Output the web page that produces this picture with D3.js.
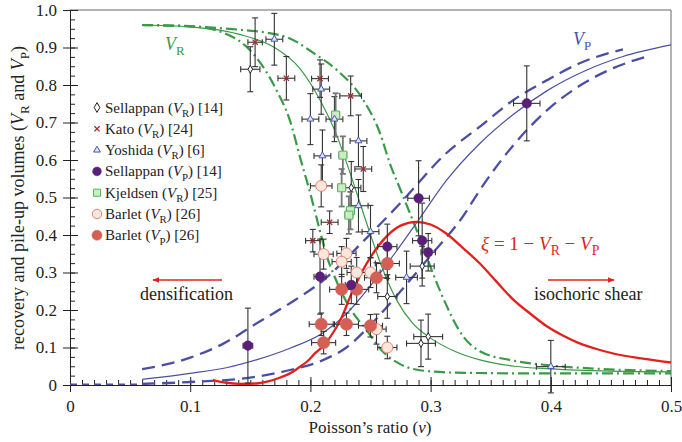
<!DOCTYPE html>
<html><head><meta charset="utf-8">
<script src="https://cdn.jsdelivr.net/npm/d3@7"></script>
<style>body{margin:0;background:#fff}svg{display:block}</style>
</head><body><svg id="c" width="682" height="442"></svg>
<script>
// ---- tick labels ----
const xTicks = [0, 0.1, 0.2, 0.3, 0.4, 0.5];
const xTickLabels = ["0", "0.1", "0.2", "0.3", "0.4", "0.5"];
const yTicks = [0, 0.1, 0.2, 0.3, 0.4, 0.5, 0.6, 0.7, 0.8, 0.9, 1.0];
const yTickLabels = ["0", "0.1", "0.2", "0.3", "0.4", "0.5", "0.6", "0.7", "0.8", "0.9", "1.0"];

// ---- model curves [nu, value] ----
const vrCentre = [[0.06,0.96],[0.1,0.955],[0.141,0.935],[0.169,0.902],[0.191,0.845],[0.208,0.76],[0.222,0.665],[0.232,0.575],[0.248,0.42],[0.26,0.31],[0.272,0.225],[0.285,0.165],[0.3,0.125],[0.32,0.09],[0.341,0.067],[0.37,0.05],[0.4,0.043],[0.45,0.037],[0.5,0.035]];
const vrLow = [[0.06,0.96],[0.1,0.957],[0.127,0.94],[0.152,0.885],[0.172,0.785],[0.183,0.705],[0.192,0.6],[0.2,0.51],[0.208,0.41],[0.2135,0.345],[0.22,0.29],[0.232,0.21],[0.247,0.145],[0.26,0.09],[0.275,0.055],[0.29,0.04],[0.32,0.033],[0.38,0.031],[0.5,0.031]];
const vrHigh = [[0.06,0.96],[0.127,0.951],[0.177,0.931],[0.205,0.88],[0.222,0.84],[0.244,0.76],[0.258,0.671],[0.266,0.592],[0.275,0.52],[0.29,0.4],[0.308,0.25],[0.327,0.13],[0.341,0.09],[0.369,0.065],[0.397,0.053],[0.441,0.043],[0.5,0.037]];
const vpCentre = [[0.06,0.015],[0.1,0.031],[0.13,0.046],[0.155,0.067],[0.183,0.098],[0.211,0.14],[0.23,0.19],[0.25,0.265],[0.27,0.35],[0.29,0.44],[0.313,0.545],[0.341,0.644],[0.369,0.722],[0.397,0.785],[0.43,0.84],[0.46,0.876],[0.5,0.907]];
const vpHigh = [[0.06,0.042],[0.1,0.073],[0.128,0.111],[0.155,0.164],[0.183,0.218],[0.211,0.28],[0.243,0.38],[0.2745,0.484],[0.313,0.618],[0.341,0.689],[0.369,0.76],[0.397,0.813],[0.424,0.858],[0.46,0.895]];
const vpLow = [[0.06,0.003],[0.1,0.008],[0.155,0.022],[0.183,0.04],[0.211,0.067],[0.23,0.1],[0.25,0.16],[0.275,0.25],[0.3,0.345],[0.327,0.45],[0.341,0.52],[0.369,0.64],[0.397,0.733],[0.425,0.8],[0.452,0.845],[0.481,0.877]];
const vpZero = [[0,0.002],[0.06,0.002]];
const xi = [[0.119,0.013],[0.13,0.006],[0.141,0.003],[0.155,0.004],[0.164,0.009],[0.175,0.02],[0.183,0.031],[0.191,0.048],[0.197,0.062],[0.204,0.085],[0.211,0.105],[0.219,0.14],[0.226,0.18],[0.233,0.235],[0.247,0.325],[0.263,0.395],[0.275,0.425],[0.288,0.435],[0.3,0.428],[0.313,0.404],[0.327,0.365],[0.341,0.324],[0.355,0.275],[0.369,0.227],[0.383,0.19],[0.397,0.156],[0.41,0.132],[0.424,0.111],[0.438,0.096],[0.452,0.084],[0.475,0.071],[0.5,0.06]];

// ---- data points [nu, V, xerr, yerr] ----
const sellappanVR = [[0.150,0.842,0.008,0.06],[0.234,0.526,0.008,0.07],[0.264,0.236,0.008,0.058],[0.293,0.317,0.01,0.053],[0.298,0.129,0.012,0.06],[0.292,0.111,0.012,0.062]];
const katoVR = [[0.154,0.914,0.006,0.065],[0.180,0.818,0.007,0.058],[0.208,0.817,0.007,0.05],[0.2335,0.771,0.009,0.053],[0.244,0.576,0.007,0.06],[0.216,0.434,0.007,0.03],[0.202,0.385,0.006,0.03]];
const yoshidaVR = [[0.170,0.922,0.007,0.069],[0.209,0.789,0.007,0.067],[0.200,0.709,0.007,0.068],[0.220,0.709,0.007,0.06],[0.210,0.611,0.007,0.069],[0.240,0.651,0.007,0.069],[0.240,0.478,0.008,0.07],[0.250,0.409,0.007,0.07],[0.280,0.287,0.009,0.07],[0.400,0.049,0.012,0.07]];
const sellappanVP = [[0.148,0.105,0.004,0.1],[0.208,0.289,0.005,0.1],[0.234,0.267,0.005,0.05],[0.264,0.369,0.008,0.06],[0.290,0.498,0.009,0.1],[0.293,0.385,0.008,0.1],[0.298,0.354,0.006,0.05],[0.380,0.751,0.011,0.1]];
const kjeldsenVR = [[0.221,0.72,0.003,0.058],[0.227,0.613,0.003,0.05],[0.226,0.526,0.003,0.05],[0.2333,0.465,0.003,0.05],[0.232,0.453,0.003,0.05]];
const barletVR = [[0.209,0.531,0.009,0.056],[0.211,0.349,0.008,0.04],[0.230,0.351,0.008,0.04],[0.226,0.329,0.008,0.04],[0.2385,0.300,0.008,0.04],[0.250,0.300,0.008,0.04],[0.255,0.149,0.008,0.04],[0.264,0.100,0.008,0.03]];
const barletVP = [[0.209,0.162,0.01,0.03],[0.211,0.113,0.01,0.03],[0.226,0.255,0.01,0.04],[0.2385,0.255,0.01,0.04],[0.230,0.162,0.01,0.03],[0.250,0.158,0.01,0.03],[0.255,0.286,0.01,0.04],[0.264,0.324,0.01,0.04]];

const GREEN = "#3a9a48", BLUE = "#4b4fa3", RED = "#e3211c";
const SERIF = "'Liberation Serif', 'DejaVu Serif', 'Times New Roman', serif";

const svg = d3.select("#c");
const x = d3.scaleLinear().domain([0, 0.5]).range([70, 671]);
const y = d3.scaleLinear().domain([0, 1]).range([385, 10]);

// frame
svg.append("line").attr("x1",70).attr("x2",671).attr("y1",10).attr("y2",10).attr("stroke","#666");
svg.append("line").attr("x1",671).attr("x2",671).attr("y1",10).attr("y2",385).attr("stroke","#666");

// axes
const minorX = d3.range(0, 0.5001, 0.01);
const minorY = d3.range(0, 1.0001, 0.025);
const gx = svg.append("g").attr("transform","translate(0,385)");
gx.call(d3.axisBottom(x).tickValues(minorX).tickSize(-5).tickFormat("")).call(g=>g.select(".domain").remove());
gx.append("g").call(d3.axisBottom(x).tickValues(xTicks).tickSizeInner(7).tickSizeOuter(0).tickPadding(8).tickFormat((d,i)=>xTickLabels[i]));
gx.append("g").call(d3.axisBottom(x).tickValues(xTicks).tickSize(-8).tickFormat("")).call(g=>g.select(".domain").remove());
const gy = svg.append("g").attr("transform","translate(70,0)");
gy.call(d3.axisLeft(y).tickValues(minorY).tickSize(-5).tickFormat("")).call(g=>g.select(".domain").remove());
gy.append("g").call(d3.axisLeft(y).tickValues(yTicks).tickSizeInner(7).tickSizeOuter(0).tickPadding(6).tickFormat((d,i)=>yTickLabels[i]));
gy.append("g").call(d3.axisLeft(y).tickValues(yTicks).tickSize(-8).tickFormat("")).call(g=>g.select(".domain").remove());
svg.selectAll(".tick text").attr("font-size",17).attr("fill","#222");
svg.selectAll(".tick line, .domain").attr("stroke","#222");

// curves
const line = d3.line().x(d=>x(d[0])).y(d=>y(d[1])).curve(d3.curveMonotoneX);
function curve(data, color, width, dash){
  svg.append("path").datum(data).attr("d",line).attr("fill","none")
    .attr("stroke",color).attr("stroke-width",width).attr("stroke-dasharray",dash||null);
}
curve(vpZero, BLUE, 1.5, "7,5");
curve(vrCentre, GREEN, 1.2);
curve(vrLow, GREEN, 2.2, "11,4,2,4");
curve(vrHigh, GREEN, 2.2, "11,4,2,4");
curve(vpCentre, BLUE, 1.2);
curve(vpHigh, BLUE, 2.3, "13,7");
curve(vpLow, BLUE, 2.3, "13,7");
curve(xi, RED, 2.3);

// error bars
function errBars(data, color, w){
  const g = svg.append("g").attr("stroke",color).attr("stroke-width",w||1.1).attr("fill","none");
  data.forEach(d=>{
    const cx=x(d[0]), cy=y(d[1]);
    const x0=x(d[0]-d[2]), x1=x(d[0]+d[2]), y0=y(d[1]-d[3]), y1=y(d[1]+d[3]);
    g.append("line").attr("x1",cx).attr("x2",cx).attr("y1",y0).attr("y2",y1);
    g.append("line").attr("x1",cx-3).attr("x2",cx+3).attr("y1",y0).attr("y2",y0);
    g.append("line").attr("x1",cx-3).attr("x2",cx+3).attr("y1",y1).attr("y2",y1);
    g.append("line").attr("x1",x0).attr("x2",x1).attr("y1",cy).attr("y2",cy);
    g.append("line").attr("x1",x0).attr("x2",x0).attr("y1",cy-3).attr("y2",cy+3);
    g.append("line").attr("x1",x1).attr("x2",x1).attr("y1",cy-3).attr("y2",cy+3);
  });
}
[sellappanVR,katoVR,yoshidaVR,sellappanVP,barletVR,barletVP].forEach(s=>errBars(s,"#333",1.1));
errBars(kjeldsenVR,"#777",1.8);

// markers
const styles = {
  diamond:{type:d3.symbolDiamond,size:18,fill:"#fff",stroke:"#222",sw:1},
  cross:{cross:true,r:2.6,stroke:"#a3262a",sw:1.3},
  tri:{type:d3.symbolTriangle,size:20,fill:"#dfe3ff",stroke:"#4a56b0",sw:1},
  purple:{type:d3.symbolCircle,size:72,fill:"#5a1f78",stroke:"#5a1f78",sw:0.5},
  square:{type:d3.symbolSquare,size:64,fill:"#c9edc0",stroke:"#57b35a",sw:1},
  pink:{type:d3.symbolCircle,size:95,fill:"#fde7dc",stroke:"#dd8472",sw:1},
  salmon:{type:d3.symbolCircle,size:120,fill:"#d35f55",stroke:"#d35f55",sw:0.5}
};
function marker(g, st, cx, cy){
  if(st.cross){
    const r=st.r;
    g.append("path").attr("d",`M${cx-r},${cy-r}L${cx+r},${cy+r}M${cx-r},${cy+r}L${cx+r},${cy-r}`)
      .attr("stroke",st.stroke).attr("stroke-width",st.sw).attr("fill","none");
  } else {
    g.append("path").attr("d",d3.symbol().type(st.type).size(st.size)()).attr("transform",`translate(${cx},${cy})`)
      .attr("fill",st.fill).attr("stroke",st.stroke).attr("stroke-width",st.sw);
  }
}
function points(data, st){
  const g = svg.append("g");
  data.forEach(d=>marker(g, st, x(d[0]), y(d[1])));
}
points(barletVR, styles.pink);
points(barletVP, styles.salmon);
points(kjeldsenVR, styles.square);
points(sellappanVP, styles.purple);
points(yoshidaVR, styles.tri);
points(sellappanVR, styles.diamond);
points(katoVR, styles.cross);

// rich text helper
function rich(parent, segs, attrs, size){
  const t = parent.append("text");
  Object.entries(attrs).forEach(([k,v])=>t.attr(k,v));
  t.attr("font-size",size);
  segs.forEach(s=>{
    const sp = t.append("tspan").text(s.t);
    if(s.i) sp.attr("font-style","italic");
    if(s.sub) sp.attr("font-size",size*0.72).attr("dy",size*0.28);
    if(s.back) sp.attr("dy",-size*0.28);
  });
  return t;
}

// legend
const legendRows = [
  {st:"diamond", segs:[{t:"Sellappan ("},{t:"V",i:true},{t:"R",sub:true},{t:") [14]",back:true}]},
  {st:"cross", segs:[{t:"Kato ("},{t:"V",i:true},{t:"R",sub:true},{t:") [24]",back:true}]},
  {st:"tri", segs:[{t:"Yoshida ("},{t:"V",i:true},{t:"R",sub:true},{t:") [6]",back:true}]},
  {st:"purple", segs:[{t:"Sellappan ("},{t:"V",i:true},{t:"P",sub:true},{t:") [14]",back:true}]},
  {st:"square", segs:[{t:"Kjeldsen ("},{t:"V",i:true},{t:"R",sub:true},{t:") [25]",back:true}]},
  {st:"pink", segs:[{t:"Barlet ("},{t:"V",i:true},{t:"R",sub:true},{t:") [26]",back:true}]},
  {st:"salmon", segs:[{t:"Barlet ("},{t:"V",i:true},{t:"P",sub:true},{t:") [26]",back:true}]}
];
const lg = svg.append("g");
legendRows.forEach((r,i)=>{
  const cy = 107.5 + i*21.3;
  const st = Object.assign({}, styles[r.st]);
  if(r.st==="salmon") st.size = 80;
  if(r.st==="pink") st.size = 70;
  if(r.st==="purple") st.size = 60;
  if(r.st==="square") st.size = 50;
  if(r.st==="diamond") st.size = 28;
  marker(lg, st, 97, cy);
  rich(lg, r.segs, {x:105, y:cy+5, fill:"#222"}, 15);
});

// annotations
rich(svg, [{t:"V",i:true},{t:"R",sub:true}], {x:165, y:50, fill:GREEN}, 18);
rich(svg, [{t:"V",i:true},{t:"P",sub:true}], {x:573, y:45, fill:BLUE}, 18);
rich(svg, [{t:"ξ",i:true},{t:" = 1 − "},{t:"V",i:true},{t:"R",sub:true},{t:" − ",back:true},{t:"V",i:true},{t:"P",sub:true}], {x:481, y:250, fill:RED}, 19);
svg.append("text").attr("x",140).attr("y",300).attr("font-size",18).attr("fill","#222").text("densification");
svg.append("text").attr("x",534).attr("y",300).attr("font-size",18).attr("fill","#222").text("isochoric shear");

// arrows
const defs = svg.append("defs");
defs.append("marker").attr("id","ah").attr("viewBox","0 0 10 10").attr("refX",9).attr("refY",5)
  .attr("markerWidth",7).attr("markerHeight",7).attr("orient","auto-start-reverse").attr("markerUnits","userSpaceOnUse")
  .append("path").attr("d","M0,1L10,5L0,9Z").attr("fill",RED);
svg.append("line").attr("x1",222).attr("x2",153).attr("y1",280).attr("y2",280).attr("stroke",RED).attr("stroke-width",1.6).attr("marker-end","url(#ah)");
svg.append("line").attr("x1",548).attr("x2",614).attr("y1",280).attr("y2",280).attr("stroke",RED).attr("stroke-width",1.6).attr("marker-end","url(#ah)");

// axis titles
svg.append("text").attr("x",370).attr("y",433).attr("text-anchor","middle").attr("font-size",17).attr("fill","#222")
  .call(t=>{t.append("tspan").text("Poisson’s ratio (");t.append("tspan").attr("font-style","italic").text("ν");t.append("tspan").text(")");});
rich(svg, [{t:"recovery and pile-up volumes ("},{t:"V",i:true},{t:"R",sub:true},{t:" and ",back:true},{t:"V",i:true},{t:"P",sub:true},{t:")",back:true}],
  {x:0, y:0, "text-anchor":"middle", transform:"translate(24,198) rotate(-90)", fill:"#222"}, 18);

svg.selectAll("text").attr("font-family", SERIF);
svg.selectAll("g").attr("font-family", SERIF);
</script></body></html>
